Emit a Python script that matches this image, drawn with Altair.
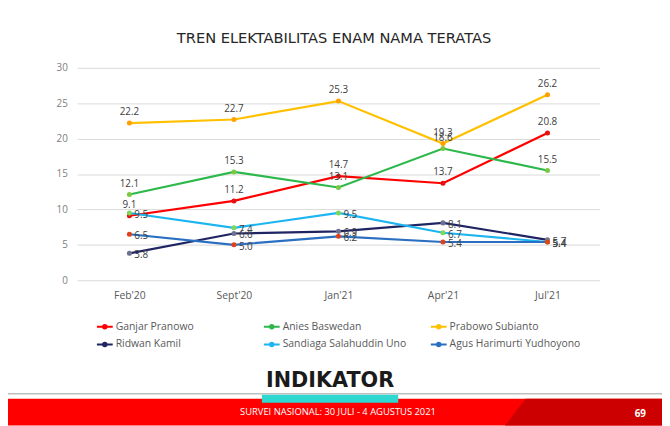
import altair as alt
import pandas as pd

months = ["Feb'20", "Sept'20", "Jan'21", "Apr'21", "Jul'21"]
names = ["Ganjar Pranowo", "Anies Baswedan", "Prabowo Subianto",
         "Ridwan Kamil", "Sandiaga Salahuddin Uno", "Agus Harimurti Yudhoyono"]
ganjar = [9.1, 11.2, 14.7, 13.7, 20.8]
anies = [12.1, 15.3, 13.1, 18.6, 15.5]
prabowo = [22.2, 22.7, 25.3, 19.3, 26.2]
ridwan = [3.8, 6.6, 6.9, 8.1, 5.7]
sandiaga = [9.5, 7.4, 9.5, 6.7, 5.4]
ahy = [6.5, 5.0, 6.2, 5.4, 5.4]
series = [ganjar, anies, prabowo, ridwan, sandiaga, ahy]
y_ticks = [0, 5, 10, 15, 20, 25, 30]

title_text = "TREN ELEKTABILITAS ENAM NAMA TERATAS"
footer_text = "SURVEI NASIONAL: 30 JULI - 4 AGUSTUS 2021"
page_no = "69"
logo_text = "INDIKATOR"

# styles
line_colors = ["#FF0000", "#2DB84B", "#FFC000", "#1F2463", "#1CB5F0", "#2A6FC0"]
marker_colors = ["#E81010", "#7AC943", "#FFA000", "#6B7190", "#7CD65A", "#E0401A"]
upper_names = names[:3]
# legend is filled column by column: reorder so it reads row by row
legend_order = [0, 3, 1, 4, 2, 5]
legend_domain = [names[i] for i in legend_order]
legend_range = [line_colors[i] for i in legend_order]

rows = []
for n, vals, mc in zip(names, series, marker_colors):
    for m, v in zip(months, vals):
        rows.append({"month": m, "name": n, "value": v, "marker": mc})
df = pd.DataFrame(rows)

W, H = 529, 215
x_enc = alt.X("month:N", sort=months, scale=alt.Scale(type="point", padding=0.5),
              axis=alt.Axis(title=None, labelAngle=0, domain=False, ticks=False,
                            labelPadding=10, labelFontSize=10.5, labelColor="#595959",
                            labelFont="Open Sans"))
y_enc = alt.Y("value:Q", scale=alt.Scale(domain=[0, 30], nice=False),
              axis=alt.Axis(title=None, values=y_ticks, domain=False, ticks=False,
                            labelPadding=10, labelFontSize=10, labelColor="#7F7F7F",
                            labelFont="Open Sans", gridColor="#D9D9D9", gridWidth=1))

legend_shape = "M-1,0L1,0M0.22,0A0.22,0.22,0,1,1,-0.22,0A0.22,0.22,0,1,1,0.22,0Z"

base = alt.Chart(df)
lines = base.mark_line(strokeWidth=2.2).encode(
    x=x_enc, y=y_enc,
    color=alt.Color("name:N", sort=legend_domain,
                    scale=alt.Scale(domain=legend_domain, range=legend_range),
                    legend=alt.Legend(orient="none", legendX=19, legendY=253, columns=3,
                                      title=None, symbolType=legend_shape, symbolSize=256,
                                      symbolStrokeWidth=2, labelFontSize=10.5,
                                      labelColor="#595959", labelFont="Open Sans",
                                      rowPadding=3, columnPadding=13, gridAlign="all",
                                      labelOffset=2)),
)
points = base.mark_circle(size=26, opacity=1).encode(
    x=x_enc, y=y_enc, color=alt.Color("marker:N", scale=None))

text_style = dict(fontSize=10, font="Open Sans", color="#404040")
labels_up = base.transform_filter(
    alt.FieldOneOfPredicate(field="name", oneOf=upper_names)
).mark_text(dy=-11, align="center", baseline="middle", **text_style).encode(
    x=x_enc, y=y_enc, text=alt.Text("value:Q", format=".1f"))
labels_right = base.transform_filter(
    ~alt.FieldOneOfPredicate(field="name", oneOf=upper_names)
).mark_text(dx=5, dy=2, align="left", baseline="middle", **text_style).encode(
    x=x_enc, y=y_enc, text=alt.Text("value:Q", format=".1f"))

one = alt.Chart(pd.DataFrame({"t": [title_text]}))
title = one.mark_text(fontSize=14.8, font="DejaVu Sans", color="#262626",
                      align="center", baseline="middle").encode(
    x=alt.value(260), y=alt.value(-29), text="t:N")

deco = alt.Chart(pd.DataFrame({"a": [0]}))
gray_line = deco.mark_rule(color="#BFBFBF", strokeWidth=1.5).encode(
    x=alt.value(-78), x2=alt.value(600), y=alt.value(330))
red_bar = deco.mark_rect(color="#FF0000").encode(
    x=alt.value(-78), x2=alt.value(600), y=alt.value(335), y2=alt.value(362))
dark_shape = "M454,335L600,335L600,362L433,362Z"
dark = deco.mark_point(shape=dark_shape, size=4, filled=True, opacity=1,
                       color="#CC0000", strokeWidth=0).encode(
    x=alt.value(0), y=alt.value(0))
cyan = deco.mark_rect(color="#2ED8D0").encode(
    x=alt.value(187), x2=alt.value(325), y=alt.value(331), y2=alt.value(339))
logo = alt.Chart(pd.DataFrame({"t": [logo_text]})).mark_text(
    fontSize=21, font="DejaVu Sans", fontWeight="bold", color="#1A1A1A",
    align="center", baseline="middle").encode(x=alt.value(256), y=alt.value(317), text="t:N")
footer = alt.Chart(pd.DataFrame({"t": [footer_text]})).mark_text(
    fontSize=9.5, font="Open Sans", color="#FFFFFF", align="center",
    baseline="middle").encode(x=alt.value(264), y=alt.value(348), text="t:N")
pno = alt.Chart(pd.DataFrame({"t": [page_no]})).mark_text(
    fontSize=10, font="Open Sans", fontWeight="bold", color="#FFFFFF", align="center",
    baseline="middle").encode(x=alt.value(570), y=alt.value(350), text="t:N")

chart = alt.layer(
    lines, points, labels_up, labels_right, title,
    gray_line, red_bar, dark, cyan, logo, footer, pno
).properties(
    width=W, height=H,
    autosize=alt.AutoSizeParams(type="none"),
    padding={"left": 70, "top": 58, "right": 63, "bottom": 145},
    background="#FFFFFF",
).configure_view(stroke=None)

chart.save("out.html", embed_options={"renderer": "svg", "actions": False})
